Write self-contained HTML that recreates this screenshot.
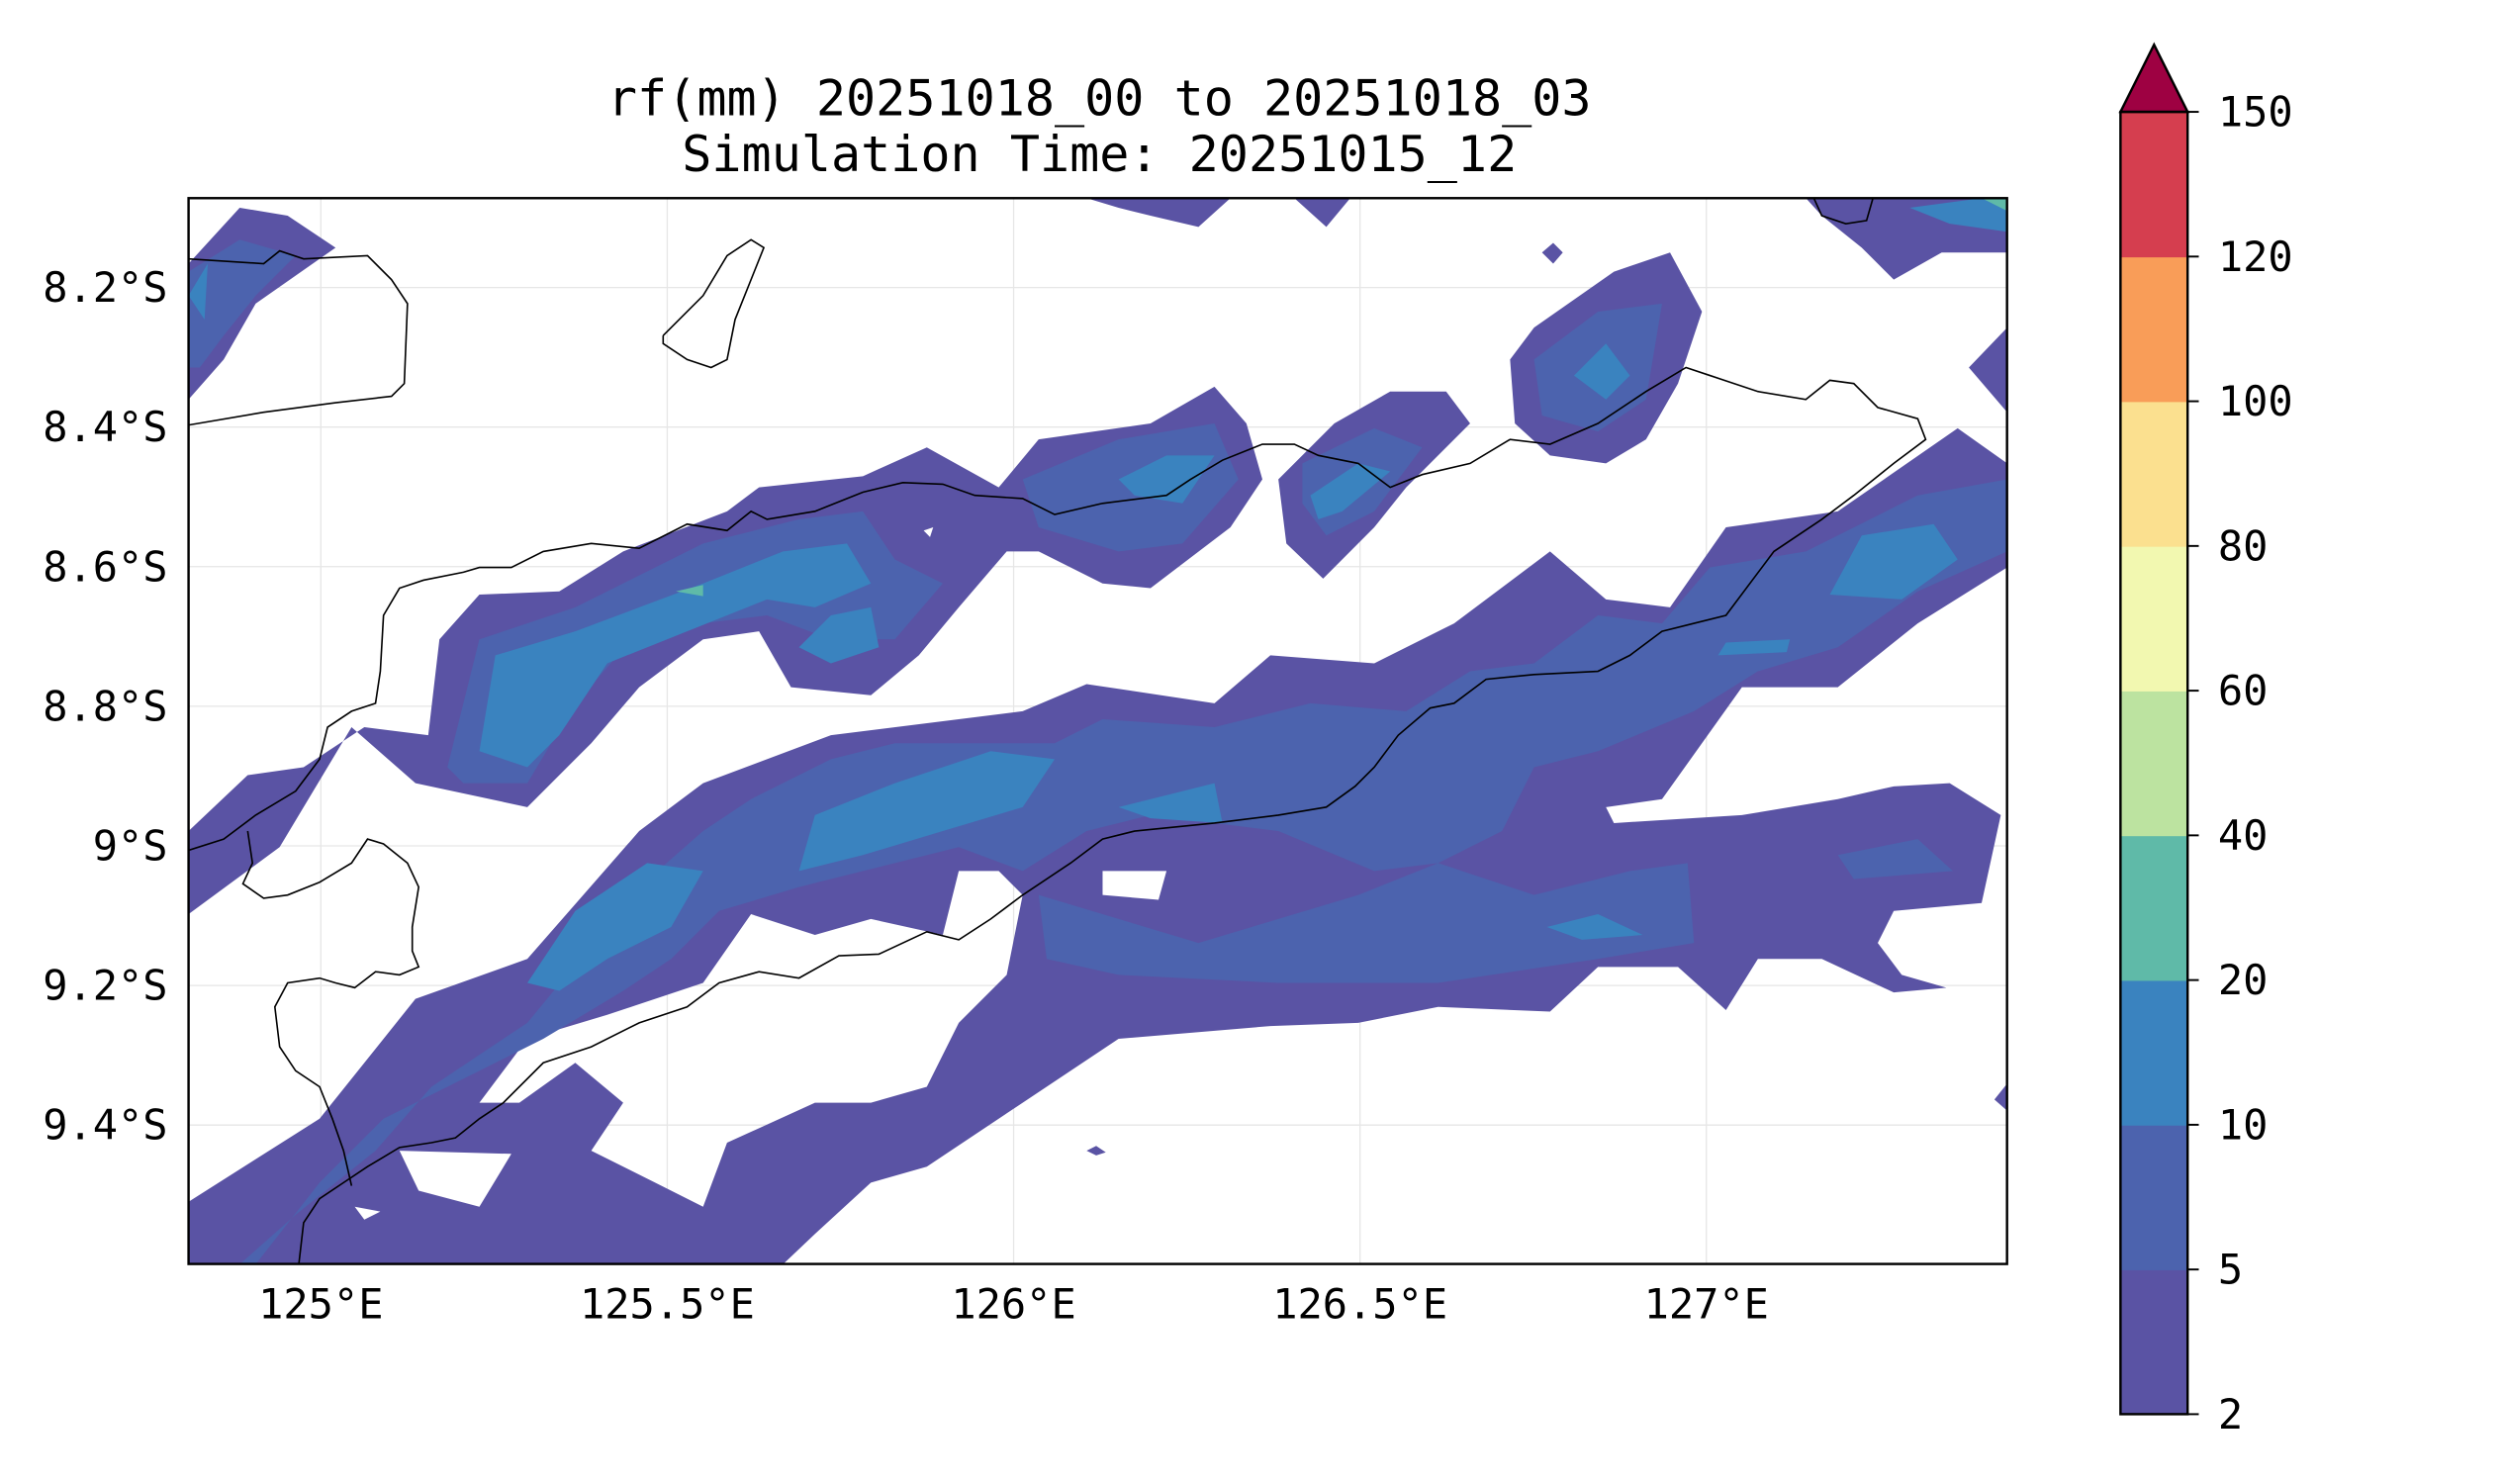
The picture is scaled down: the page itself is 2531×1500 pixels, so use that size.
<!DOCTYPE html>
<html><head><meta charset="utf-8"><style>
html,body{margin:0;padding:0;background:#fff}
svg{display:block}
text{font-family:"DejaVu Sans Mono","Liberation Mono",monospace;fill:#000}
</style></head><body>
<svg id="chart" xmlns="http://www.w3.org/2000/svg" width="2531" height="1500" viewBox="0 0 1567 928.7" preserveAspectRatio="none">
<rect x="0" y="0" width="1567" height="928.7" fill="#fff"/>
<text x="688" y="72" font-size="31" text-anchor="middle">rf(mm) 20251018_00 to 20251018_03</text>
<text x="688" y="107" font-size="31" text-anchor="middle">Simulation Time: 20251015_12</text>
<defs><clipPath id="plotclip"><rect x="118" y="124" width="1138" height="667"/></clipPath></defs>
<g id="grid"></g>
<g id="fills" clip-path="url(#plotclip)"></g>
<g id="coast" clip-path="url(#plotclip)"></g>
<rect x="118" y="124" width="1138" height="667" fill="none" stroke="#000" stroke-width="1.5"/>
<g id="xticks"></g>
<g id="yticks"></g>
<g id="cbar"></g>
</svg>
<script>
// Axis extents (degrees)
const lonRange=[124.809,127.434];
const latRange=[8.072,9.599]; // degrees south, top to bottom
const lonTicks=[125,125.5,126,126.5,127];
const lonTickLabels=["125°E","125.5°E","126°E","126.5°E","127°E"];
const latTicks=[8.2,8.4,8.6,8.8,9.0,9.2,9.4];
const latTickLabels=["8.2°S","8.4°S","8.6°S","8.8°S","9°S","9.2°S","9.4°S"];
const levels=[2,5,10,20,40,60,80,100,120,150];
const levelColors=["#5a53a4","#4c63ae","#3a83bf","#5fbaa8","#bce3a0","#f2f8b0","#fbe08f","#f99d58","#d53e4f"];
const extendColor="#9e0142";

const P={x0:118,x1:1256,y0:124,y1:791};
function xScale(lon){return P.x0+(lon-lonRange[0])/(lonRange[1]-lonRange[0])*(P.x1-P.x0);}
function yScale(lat){return P.y0+(lat-latRange[0])/(latRange[1]-latRange[0])*(P.y1-P.y0);}
// sampling grid: grid units -> lon/lat
function gLon(g){return lonRange[0]+(g-118)/433.5;}
function gLat(g){return latRange[0]+(g-124)/436.7;}

// contour polygons in sampling-grid units [gx,gy,...]
const level2=[
[118,791,118,752,200,700,260,625,330,600,400,520,440,490,520,460,640,445,680,428,760,440,795,410,860,415,910,390,970,345,1005,375,1045,380,1080,330,1150,320,1225,268,1256,290,1256,355,1200,390,1150,430,1090,430,1040,500,1005,505,1010,515,1090,510,1150,500,1185,492,1220,490,1252,510,1240,565,1185,570,1175,590,1190,610,1218,618,1185,621,1140,600,1100,600,1080,632,1050,605,1000,605,970,633,900,630,850,640,795,642,700,650,640,690,580,730,545,740,510,772,490,791],
[118,572,175,530,220,455,260,490,330,505,370,465,400,430,440,400,475,395,495,430,545,435,575,410,600,380,630,345,650,345,690,365,720,368,770,330,790,300,780,265,760,242,720,265,650,275,625,305,580,280,540,298,475,305,455,320,390,345,350,370,300,372,275,400,268,460,228,455,190,480,155,485,118,520],
[800,300,835,265,870,245,905,245,920,265,880,305,860,330,828,362,805,340],
[945,225,960,205,1010,170,1045,158,1065,195,1050,240,1030,275,1005,290,970,285,948,265],
[118,165,118,250,140,225,160,190,210,155,180,135,150,130],
[680,124,770,124,750,142,720,135,700,130],[810,124,845,124,830,142],
[1130,124,1256,124,1256,158,1215,158,1185,175,1165,155,1140,135],
[1232,230,1256,205,1256,258],[1248,688,1256,678,1256,695],[965,158,972,152,978,158,972,165],[680,720,686,717,692,721,686,723]
];
const holes2=[
[440,615,470,572,510,585,545,575,590,585,600,545,625,545,640,560,630,610,600,640,580,680,545,690,510,690,455,715,440,755,410,740,370,720,390,690,360,665,325,690,300,690,330,650,380,635],
[690,545,730,545,725,563,690,560],[250,720,320,722,300,755,262,745],[222,755,238,758,228,763],[578,332,584,330,582,336]
];
const level5=[
[150,791,185,760,235,720,270,680,330,640,400,555,440,520,470,500,520,475,560,465,660,465,690,450,760,455,820,440,880,445,920,420,960,415,1000,385,1040,390,1070,355,1130,345,1200,310,1256,300,1256,345,1200,370,1150,405,1100,420,1060,445,1000,470,960,480,940,520,900,540,860,545,800,520,760,515,720,510,680,520,640,545,600,530,500,555,450,570,420,600,390,620,340,650,300,670,240,700,200,740,160,791],
[650,560,750,590,850,560,900,540,960,560,1020,545,1056,540,1060,590,1000,600,900,615,800,615,700,610,655,600],
[280,480,300,400,360,380,400,360,440,340,500,325,540,320,560,350,590,365,560,400,520,400,480,385,400,395,360,440,330,490,290,490],
[640,300,700,275,760,265,775,300,740,340,700,345,650,330],
[815,290,860,268,890,280,860,320,830,335,815,315],
[960,225,1000,195,1040,190,1030,250,1000,270,965,260],
[118,170,150,150,185,160,160,185,140,210,125,230,118,230],
[1150,535,1200,525,1222,545,1160,550]
];
const level10=[
[300,470,310,410,360,395,400,380,440,365,490,345,530,340,545,365,510,380,480,375,430,395,380,415,350,460,330,480],
[500,405,520,385,545,380,550,405,520,415],[700,300,730,285,760,285,740,315,710,310],
[985,235,1005,215,1020,235,1005,250],[820,310,850,290,870,295,840,320,825,325],
[500,545,510,510,560,490,620,470,660,475,640,505,590,520,540,535],
[330,615,360,570,405,540,440,545,420,580,380,600,350,620],
[1145,372,1165,335,1210,328,1225,350,1190,375],[1075,410,1080,402,1120,400,1118,408],
[968,580,1000,572,1028,585,990,588],[700,505,760,490,765,515,720,512],
[1195,130,1240,124,1256,124,1256,145,1220,140],[118,185,130,165,128,200]
];
const level20=[[423,370,440,366,440,373],[1240,124,1256,124,1256,132]];
const coastLines=[
[118,162,165,165,175,157,190,162,230,160,245,175,255,190,253,240,245,248,210,252,165,258,118,266],
[415,210,440,185,455,160,470,150,478,155,460,200,455,225,445,230,430,225,415,215,415,210],
[118,532,140,525,160,510,185,495,200,475,205,455,220,445,235,440,238,420,240,385,250,368,265,363,290,358,300,355,320,355,340,345,370,340,400,343,430,328,455,332,470,320,480,325,510,320,540,308,565,302,590,303,610,310,640,312,660,322,690,315,730,310,745,300,765,288,790,278,810,278,825,285,850,290,870,305,890,297,920,290,945,275,970,278,1000,265,1030,245,1055,230,1070,235,1100,245,1130,250,1145,238,1160,240,1175,255,1200,262,1205,275,1185,290,1160,310,1140,325,1110,345,1080,385,1060,390,1040,395,1020,410,1000,420,960,422,930,425,910,440,895,443,875,460,860,480,848,492,830,505,800,510,760,515,710,520,690,525,670,540,640,560,620,575,600,588,580,583,550,597,525,598,500,612,475,608,450,615,430,630,400,640,370,655,340,665,315,690,300,700,285,712,270,715,250,718,230,730,215,740,200,750,190,765,187,791],
[155,520,158,540,152,553,165,562,180,560,200,552,220,540,230,525,240,528,255,540,262,555,258,580,258,595,262,605,250,610,235,608,222,618,210,615,200,612,180,615,172,630,175,655,185,670,200,680,208,700,215,720,220,742],
[1135,124,1140,135,1155,140,1168,138,1172,124]
];

const NS="http://www.w3.org/2000/svg";
function mk(tag,attrs,parent){const e=document.createElementNS(NS,tag);for(const k in attrs)e.setAttribute(k,attrs[k]);parent.appendChild(e);return e;}
function toPath(arr,close){let d="";for(let i=0;i<arr.length;i+=2){d+=(i?"L":"M")+xScale(gLon(arr[i])).toFixed(1)+" "+yScale(gLat(arr[i+1])).toFixed(1);}return d+(close?"Z":"");}

const fills=document.getElementById('fills');
let d2=level2.map(a=>toPath(a,true)).join("")+holes2.map(a=>toPath(a,true)).join("");
const p2=mk('path',{d:d2,fill:levelColors[0],'fill-rule':'evenodd'},fills);


const p5=mk('path',{d:level5.map(a=>toPath(a,true)).join(""),fill:levelColors[1]},fills);


const p10=mk('path',{d:level10.map(a=>toPath(a,true)).join(""),fill:levelColors[2]},fills);


const p20=mk('path',{d:level20.map(a=>toPath(a,true)).join(""),fill:levelColors[3]},fills);



const coast=document.getElementById('coast');
coastLines.forEach(a=>{
  const c=mk('path',{d:toPath(a,false),fill:'none',stroke:'#000','stroke-width':1},coast);
  
  
});

const grid=document.getElementById('grid'),xt=document.getElementById('xticks'),yt=document.getElementById('yticks');
lonTicks.forEach((v,i)=>{
  const x=xScale(v);
  const g=mk('line',{x1:x,x2:x,y1:P.y0,y2:P.y1,stroke:'#e6e6e6','stroke-width':0.8},grid);
  
  
  const t=mk('text',{x:x,y:825,'font-size':26,'text-anchor':'middle'},xt);
  t.textContent=lonTickLabels[i];
  
  
});
latTicks.forEach((v,i)=>{
  const y=yScale(v);
  const g=mk('line',{x1:P.x0,x2:P.x1,y1:y,y2:y,stroke:'#e6e6e6','stroke-width':0.8},grid);
  
  
  const t=mk('text',{x:105,y:y+9,'font-size':26,'text-anchor':'end'},yt);
  t.textContent=latTickLabels[i];
  
  
});

// colorbar
const cb=document.getElementById('cbar');
const CB={x:1327,w:42,top:70,bot:885};
const n=levels.length-1, bh=(CB.bot-CB.top)/n;
for(let i=0;i<n;i++){
  const r=mk('rect',{x:CB.x,y:CB.bot-(i+1)*bh,width:CB.w,height:bh+0.5,fill:levelColors[i]},cb);
  
  
}
const tri=mk('path',{d:`M${CB.x} ${CB.top}L${CB.x+CB.w/2} 28L${CB.x+CB.w} ${CB.top}Z`,fill:extendColor,stroke:'#000','stroke-width':1.5},cb);


const fr=mk('rect',{x:CB.x,y:CB.top,width:CB.w,height:CB.bot-CB.top,fill:'none',stroke:'#000','stroke-width':1.5},cb);


levels.forEach((v,i)=>{
  const y=CB.bot-i*bh;
  const tk=mk('line',{x1:CB.x+CB.w,x2:CB.x+CB.w+7,y1:y,y2:y,stroke:'#000','stroke-width':1.2},cb);
  
  
  const t=mk('text',{x:1388,y:y+9,'font-size':26},cb);
  t.textContent=v;
  
  
});
</script>
</body></html>
